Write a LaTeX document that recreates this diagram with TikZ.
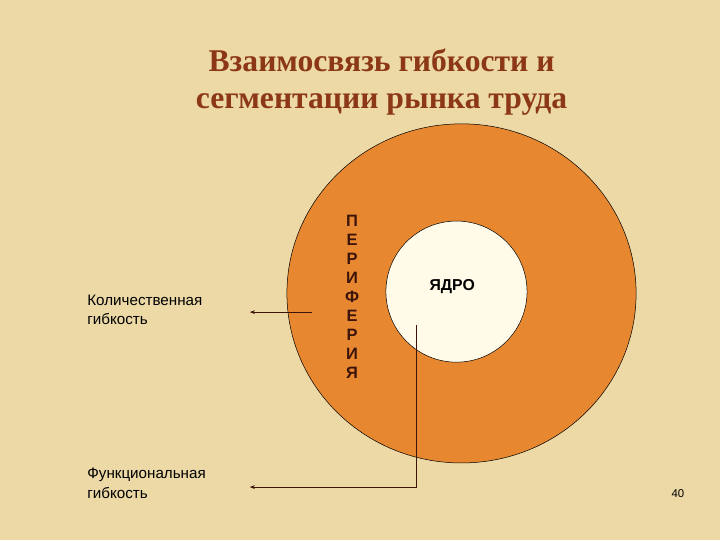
\documentclass[tikz,border=0pt]{standalone}
\usepackage{fontspec}
\setmainfont{Liberation Serif}
\setsansfont{Liberation Sans}
\definecolor{parchment}{RGB}{236, 217, 166}
\definecolor{ringorange}{RGB}{231, 135, 48}
\definecolor{coreivory}{RGB}{255, 251, 232}
\definecolor{titlebrown}{RGB}{140, 56, 22}
\definecolor{darkline}{RGB}{60, 20, 10}
\usetikzlibrary{shapes.geometric, arrows.meta, positioning, calc}

\begin{document}
\begin{tikzpicture}[
  lbl/.style={font=\sffamily\fontsize{12}{15.5}\selectfont, align=left, anchor=west, inner sep=0pt},
  arr/.style={draw=darkline, -{Stealth[length=4pt, width=3pt]}},
]
  \useasboundingbox (0,0) rectangle (20,15);
  \fill[parchment] (0,0) rectangle (20,15);
  % Title
  \node[font=\bfseries\fontsize{25}{30}\selectfont, text=titlebrown, align=center] (title) at (10.6,12.72)
    {Взаимосвязь гибкости и\\сегментации рынка труда};
  % Circles
  \node[ellipse, draw=black, thin, fill=ringorange, minimum width=9.7cm, minimum height=9.42cm, inner sep=0pt] (ring) at (12.82,6.85) {};
  \node[circle, draw=black, thin, fill=coreivory, minimum size=3.92cm, inner sep=0pt] (core) at (12.68,6.9) {};
  \node[font=\sffamily\bfseries\fontsize{12.5}{14}\selectfont] (coretxt) at (12.56,7.03) {ЯДРО};
  \node[font=\sffamily\bfseries\fontsize{13}{15}\selectfont, text=darkline, align=center] (periph) at (9.78,6.76)
    {П\\Е\\Р\\И\\Ф\\Е\\Р\\И\\Я};
  % Labels
  \node[lbl] (qlab) at (2.42,6.39) {Количественная\\гибкость};
  \node[lbl] (flab) at (2.42,1.58) {Функциональная\\гибкость};
  \node[font=\sffamily\fontsize{9}{11}\selectfont] (pnum) at (18.83,1.28) {40};
  % Arrows
  \coordinate (qs) at (8.67,6.33);
  \coordinate (qe) at (6.94,6.33);
  \coordinate (fs) at (11.56,5.97);
  \coordinate (fc) at (11.56,1.47);
  \coordinate (fe) at (6.94,1.47);
  \draw[arr, line width=0.9pt] (qs) -- (qe);
  \draw[arr, line width=0.5pt] (fs) -- (fc) -- (fe);
\end{tikzpicture}
\end{document}
